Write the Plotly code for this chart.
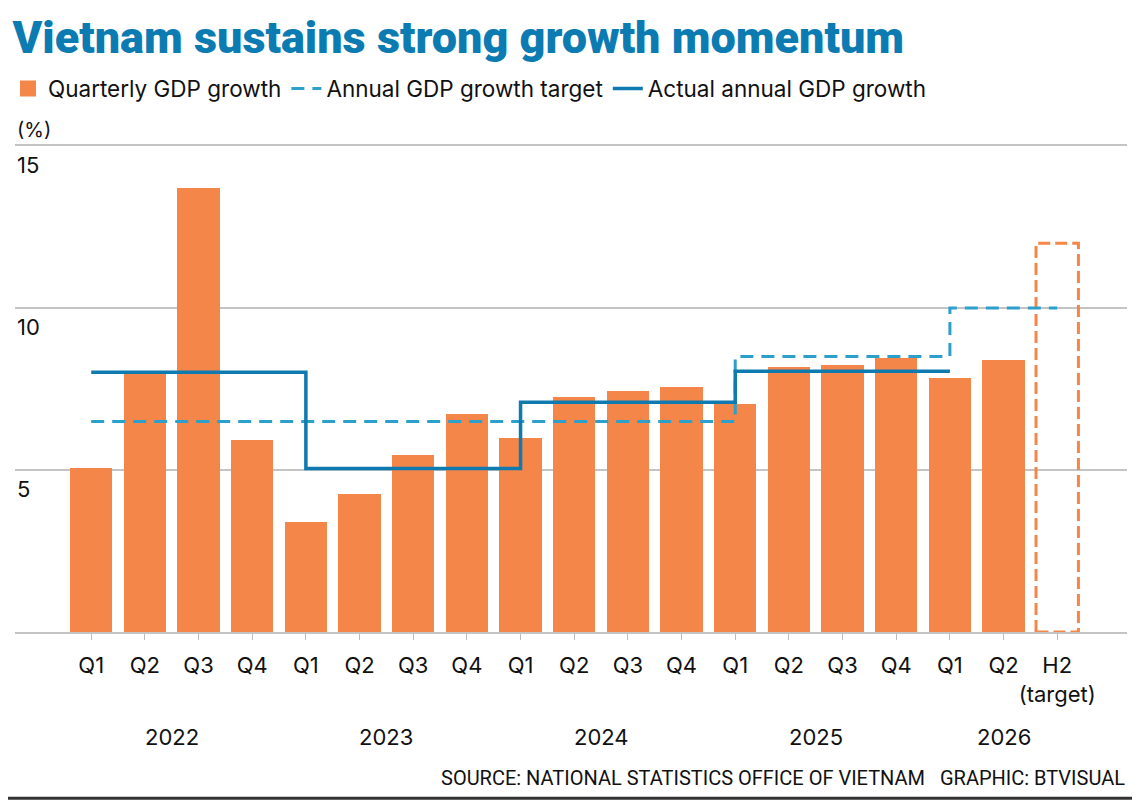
import plotly.graph_objects as go

# data
periods = ["Q1", "Q2", "Q3", "Q4"] * 4 + ["Q1", "Q2", "H2<br>(target)"]
period_years = [2022] * 4 + [2023] * 4 + [2024] * 4 + [2025] * 4 + [2026] * 3
quarterly_growth = [5.05, 7.99, 13.71, 5.92,
                    3.41, 4.25, 5.47, 6.72,
                    5.98, 7.25, 7.43, 7.55,
                    7.05, 8.17, 8.25, 8.46,
                    7.83, 8.38]
h2_target = 12.0
years = [2022, 2023, 2024, 2025, 2026]
annual_target = [6.5, 6.5, 6.5, 8.5, 10.0]
annual_actual = [8.02, 5.05, 7.09, 8.05]
y_ticks = [5, 10, 15]

ORANGE = "#F4864A"
DARK_BLUE = "#0E7AB0"
LIGHT_BLUE = "#2C9FCB"
FONT = "Inter"

idx = list(range(len(periods)))
year_start = [period_years.index(y) for y in years]
bar_w = 0.79

fig = go.Figure()

fig.add_bar(x=idx[:len(quarterly_growth)], y=quarterly_growth, width=bar_w,
            marker_color=ORANGE, marker_line_width=0, showlegend=False)
# legend entry with a bigger square swatch
fig.add_scatter(x=[None], y=[None], mode="markers", name="Quarterly GDP growth",
                marker=dict(symbol="square", size=20, color=ORANGE))

# H2 target drawn as a dashed empty bar
h2 = idx[-1]
fig.add_scatter(x=[h2 - bar_w / 2, h2 - bar_w / 2, h2 + bar_w / 2, h2 + bar_w / 2, h2 - bar_w / 2],
                y=[0, h2_target, h2_target, 0, 0], mode="lines",
                line=dict(color=ORANGE, width=3, dash="12px,5px"),
                showlegend=False, hoverinfo="skip")

fig.add_scatter(x=year_start + [idx[-1]], y=annual_target + [annual_target[-1]],
                mode="lines", line_shape="hv",
                line=dict(color=LIGHT_BLUE, width=3, dash="13px,8px"),
                name="Annual GDP growth target")

fig.add_scatter(x=year_start[:len(annual_actual) + 1],
                y=annual_actual + [annual_actual[-1]],
                mode="lines", line_shape="hv",
                line=dict(color=DARK_BLUE, width=3.5),
                name="Actual annual GDP growth")

fig.update_xaxes(range=[-1.42, 19.3], tickmode="array", tickvals=idx, ticktext=periods,
                 tickangle=0, automargin=False,
                 ticks="outside", ticklen=6, tickcolor="#bdbdbd", tickwidth=1,
                 ticklabelstandoff=7,
                 tickfont=dict(family=FONT, size=22, color="#111"),
                 showgrid=False, zeroline=False,
                 showline=True, mirror=True, linecolor="#c4c4c4", linewidth=1.5)
fig.update_yaxes(range=[0, 15], tickvals=y_ticks[:-1], showticklabels=False,
                 gridcolor="#c4c4c4", gridwidth=1.5, zeroline=False, automargin=False)

# y tick labels sit just under their gridlines
for v in y_ticks:
    fig.add_annotation(x=0, xref="paper", y=v, yref="y", text=str(v), showarrow=False,
                       xanchor="left", yanchor="top", yshift=-4,
                       font=dict(family=FONT, size=22, color="#111"))

# year labels under the quarter labels
for y in years:
    members = [i for i, py in zip(idx, period_years) if py == y]
    fig.add_annotation(x=sum(members) / len(members), xref="x", y=-0.216, yref="paper",
                       text=str(y), showarrow=False, yanchor="middle",
                       font=dict(family=FONT, size=22, color="#111"))

fig.add_annotation(x=0, xref="paper", y=1.033, yref="paper", text="(%)", showarrow=False,
                   xanchor="left", yanchor="middle",
                   font=dict(family=FONT, size=20, color="#111"))
fig.add_annotation(x=1, xref="paper", y=-0.300, yref="paper",
                   text="SOURCE: NATIONAL STATISTICS OFFICE OF VIETNAM&nbsp;&nbsp;&nbsp;GRAPHIC: BTVISUAL",
                   showarrow=False, xanchor="right", yanchor="middle",
                   font=dict(family="Roboto", size=20, color="#111"))
fig.add_shape(type="line", xref="paper", yref="paper", x0=-0.1, x1=1.1, y0=-0.342, y1=-0.342,
              line=dict(color="#333", width=3))

# page body has an 8px margin, so everything is pulled up/left by 8px
fig.update_layout(
    width=1140, height=801,
    margin=dict(l=7, r=21, t=138, b=177, autoexpand=False),
    plot_bgcolor="white", paper_bgcolor="white",
    bargap=0,
    title=dict(text="Vietnam sustains strong growth momentum", x=0.004, xanchor="left",
               y=0.964, yanchor="middle",
               font=dict(family="Roboto", size=45, weight=900, color="#0B7BB2")),
    legend=dict(orientation="h", xref="container", yref="container",
                x=-0.014, xanchor="left", y=0.899, yanchor="middle",
                font=dict(family=FONT, size=22.5, color="#111"),
                itemwidth=30, tracegroupgap=0, bgcolor="rgba(0,0,0,0)"),
    showlegend=True,
)

fig.write_html("out.html")
